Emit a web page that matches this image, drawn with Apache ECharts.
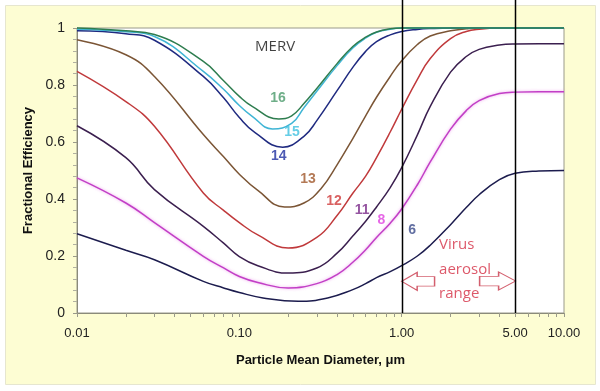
<!DOCTYPE html>
<html><head><meta charset="utf-8">
<script src="https://cdn.jsdelivr.net/npm/echarts@6/dist/echarts.min.js"></script>
<style>html,body{margin:0;padding:0;background:#fff}#c{width:600px;height:391px}</style>
</head><body><div id="c"></div>
<script>
// Particle diameters (µm) and fractional efficiency, per MERV rating
const d6   = [0.01, 0.02, 0.03, 0.06, 0.08, 0.1, 0.14, 0.23, 0.35, 0.5, 0.6, 0.7, 0.85, 1, 1.25, 1.5, 2, 2.5, 3, 4, 5, 7, 10];
const v6   = [0.278, 0.220, 0.187, 0.111, 0.088, 0.072, 0.053, 0.041, 0.053, 0.082, 0.103, 0.124, 0.145, 0.166, 0.200, 0.238, 0.310, 0.370, 0.415, 0.468, 0.490, 0.498, 0.500];
const d8   = [0.01, 0.02, 0.03, 0.06, 0.08, 0.1, 0.13, 0.2, 0.3, 0.4, 0.5, 0.6, 0.7, 0.85, 1, 1.25, 1.5, 2, 2.5, 3, 4, 5, 7, 10];
const v8   = [0.474, 0.386, 0.317, 0.199, 0.158, 0.128, 0.107, 0.088, 0.103, 0.135, 0.178, 0.222, 0.265, 0.315, 0.365, 0.450, 0.530, 0.645, 0.710, 0.745, 0.770, 0.775, 0.776, 0.776];
const d11  = [0.01, 0.02, 0.03, 0.06, 0.08, 0.1, 0.13, 0.2, 0.3, 0.4, 0.5, 0.6, 0.7, 0.85, 1, 1.25, 1.5, 2, 2.5, 3, 4, 5, 7, 10];
const v11  = [0.657, 0.545, 0.433, 0.304, 0.245, 0.198, 0.166, 0.140, 0.158, 0.210, 0.270, 0.322, 0.372, 0.440, 0.510, 0.625, 0.725, 0.845, 0.900, 0.925, 0.940, 0.944, 0.945, 0.945];
const d12  = [0.01, 0.02, 0.03, 0.06, 0.08, 0.1, 0.13, 0.2, 0.3, 0.4, 0.5, 0.6, 0.7, 0.85, 1, 1.25, 1.5, 2, 2.5, 3, 4, 10];
const v12  = [0.848, 0.742, 0.655, 0.421, 0.360, 0.317, 0.274, 0.228, 0.265, 0.342, 0.420, 0.480, 0.545, 0.635, 0.715, 0.820, 0.893, 0.963, 0.988, 0.996, 1.000, 1.000];
const d13  = [0.01, 0.02, 0.03, 0.06, 0.08, 0.1, 0.13, 0.19, 0.25, 0.32, 0.4, 0.5, 0.6, 0.7, 0.85, 1, 1.25, 1.5, 2, 2.5, 3, 10];
const v13  = [0.959, 0.906, 0.830, 0.626, 0.548, 0.487, 0.430, 0.372, 0.386, 0.438, 0.520, 0.612, 0.692, 0.757, 0.830, 0.885, 0.942, 0.972, 0.990, 0.997, 1.000, 1.000];
const d14  = [0.01, 0.02, 0.03, 0.06, 0.08, 0.1, 0.125, 0.185, 0.25, 0.3, 0.4, 0.5, 0.6, 0.7, 0.85, 1, 1.25, 1.5, 2, 10];
const v14  = [0.990, 0.980, 0.957, 0.830, 0.755, 0.686, 0.633, 0.582, 0.620, 0.675, 0.780, 0.862, 0.918, 0.952, 0.976, 0.988, 0.995, 0.998, 1.000, 1.000];
const d15  = [0.01, 0.02, 0.03, 0.06, 0.08, 0.1, 0.12, 0.16, 0.21, 0.25, 0.3, 0.4, 0.5, 0.6, 0.7, 0.85, 1, 10];
const v15  = [0.996, 0.987, 0.970, 0.848, 0.785, 0.728, 0.690, 0.646, 0.665, 0.720, 0.778, 0.868, 0.930, 0.965, 0.985, 0.996, 1.000, 1.000];
const d16  = [0.01, 0.02, 0.03, 0.06, 0.08, 0.1, 0.12, 0.175, 0.21, 0.25, 0.3, 0.4, 0.5, 0.6, 0.7, 0.85, 1, 10];
const v16  = [1.000, 0.990, 0.977, 0.883, 0.815, 0.760, 0.725, 0.681, 0.692, 0.735, 0.788, 0.875, 0.935, 0.968, 0.986, 0.997, 1.000, 1.000];

const seriesNames = ['6', '8', '11', '12', '13', '14', '15', '16'];
const seriesX = [d6, d8, d11, d12, d13, d14, d15, d16];
const seriesY = [v6, v8, v11, v12, v13, v14, v15, v16];
const lineColors  = ['#1c1c4e', '#c23fc6', '#3b1f4f', '#c0393b', '#7b5535', '#1f2a80', '#3fb5d5', '#2e7d4f'];
const labelColors = ['#3a4a8a', '#e040e0', '#7a2a8a', '#d03a3a', '#a0582a', '#1f2fa0', '#3fc0e0', '#4a9a6a'];

// curve label anchor points (data coords)
const labelX = [1.16, 0.75, 0.57, 0.383, 0.265, 0.175, 0.211, 0.173];
const labelY = [0.289, 0.327, 0.362, 0.391, 0.471, 0.552, 0.633, 0.755];
const titleText = 'MERV';
const titlePos = [0.166, 0.934];

// axis ticks / labels
const xTickValues = [0.01,0.02,0.03,0.04,0.05,0.06,0.07,0.08,0.09,0.1,0.2,0.3,0.4,0.5,0.6,0.7,0.8,0.9,1,2,3,4,5,6,7,8,9,10];
const xLabelValues = [0.01, 0.1, 1, 5, 10];

// virus aerosol range
const virusRange = [1, 5];
const virusText = ['Virus', 'aerosol', 'range'];
const virusTextPos = [1.70, 0.152];
const arrowPos = [[1.262, 0.111], [3.90, 0.112]];

const chart = echarts.init(document.getElementById('c'), null, {renderer: 'canvas'});

const series = seriesNames.map((n, i) => ({
  name: 'MERV ' + n,
  type: 'line',
  data: seriesX[i].map((d, j) => [d, seriesY[i][j]]),
  showSymbol: false,
  smooth: 0.45,
  clip: false,
  z: 3 + i,
  lineStyle: Object.assign({color: lineColors[i], width: 1.5},
    n === '8' ? {shadowColor: 'rgba(230,120,230,0.7)', shadowBlur: 3} : {}),
  itemStyle: {color: lineColors[i]}
}));

series.push({
  type: 'scatter',
  symbolSize: 0,
  silent: true,
  z: 20,
  data: seriesNames.map((n, i) => ({
    value: [labelX[i], labelY[i]],
    label: {show: true, position: 'inside', formatter: n, color: labelColors[i],
      fontFamily: 'Liberation Sans, Arial', fontWeight: 'bold', fontSize: 14}
  })).concat([{
    value: titlePos,
    label: {show: true, position: 'inside', formatter: titleText, color: '#111',
      fontFamily: 'Open Sans', fontSize: 15}
  }])
});

series.push({
  type: 'scatter',
  silent: true,
  z: 21,
  symbol: 'path://M0,4 L19,4 L19,0 L36,8.5 L19,17 L19,13 L0,13 Z',
  data: [
    {value: arrowPos[0], symbolSize: [33, 18], symbolRotate: 180},
    {value: arrowPos[1], symbolSize: [36, 18], symbolRotate: 0}
  ],
  itemStyle: {color: '#fff', borderColor: '#c8374a', borderWidth: 1.1}
});

series.push({
  type: 'scatter',
  symbolSize: 0,
  silent: true,
  z: 22,
  data: [{
    value: virusTextPos,
    label: {show: true, position: 'right', distance: 0, formatter: virusText.join('\n'),
      color: '#d42f45', fontFamily: 'Open Sans', fontSize: 15, lineHeight: 24.5, align: 'left'}
  }]
});

const option = {
  animation: false,
  backgroundColor: '#ffffff',
  grid: {left: 77, right: 36, top: 28, bottom: 78, show: true, backgroundColor: '#ffffff',
    borderColor: '#9a9a8a', borderWidth: 1},
  xAxis: {
    type: 'log', logBase: 10, min: 0.01, max: 10,
    name: 'Particle Mean Diameter, \u03bcm', nameLocation: 'middle', nameGap: 41,
    nameTextStyle: {fontFamily: 'Liberation Sans, Arial', fontWeight: 'bold', fontSize: 13, color: '#111'},
    axisLine: {show: true, lineStyle: {color: '#8a8a7a', width: 1}},
    axisTick: {show: true, length: 4, lineStyle: {color: '#9a9a8a'}, customValues: xTickValues},
    minorTick: {show: false},
    splitLine: {show: false},
    axisLabel: {customValues: xLabelValues, margin: 14, fontFamily: 'Liberation Sans, Arial',
      fontSize: 13, color: '#222', formatter: v => Number(v).toFixed(2)}
  },
  yAxis: {
    type: 'value', min: 0, max: 1, interval: 0.2,
    name: 'Fractional Efficiency', nameLocation: 'middle', nameGap: 42, nameRotate: 90,
    nameTextStyle: {fontFamily: 'Liberation Sans, Arial', fontWeight: 'bold', fontSize: 13, color: '#111'},
    axisLine: {show: true, lineStyle: {color: '#8a8a7a', width: 1}},
    axisTick: {show: true, length: 4, lineStyle: {color: '#9a9a8a'}},
    minorTick: {show: true, splitNumber: 5, length: 4, lineStyle: {color: '#b0b0a0'}},
    splitLine: {show: false},
    axisLabel: {margin: 12, fontFamily: 'Liberation Sans, Arial', fontSize: 14, color: '#222',
      formatter: v => String(Math.round(v * 10) / 10)}
  },
  series: series
};
chart.setOption(option);

const gx0 = chart.convertToPixel({xAxisIndex: 0}, virusRange[0]);
const gx1 = chart.convertToPixel({xAxisIndex: 0}, virusRange[1]);
const gyBottom = chart.convertToPixel({yAxisIndex: 0}, 0);
chart.setOption({
  graphic: [
    {type: 'rect', z: -10, silent: true, shape: {x: 5.5, y: 5.5, width: 590, height: 379},
      style: {fill: '#fdfdd3', stroke: '#e6e6cf', lineWidth: 1}},
    {type: 'line', z: 100, silent: true, shape: {x1: Math.round(gx0) + 0.5, y1: 0, x2: Math.round(gx0) + 0.5, y2: gyBottom},
      style: {stroke: '#000', lineWidth: 1.5}},
    {type: 'line', z: 100, silent: true, shape: {x1: Math.round(gx1) + 0.5, y1: 0, x2: Math.round(gx1) + 0.5, y2: gyBottom},
      style: {stroke: '#000', lineWidth: 1.5}}
  ]
});
</script></body></html>
